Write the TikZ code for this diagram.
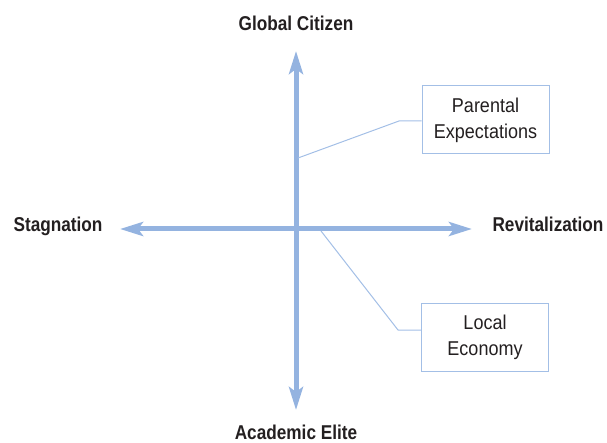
\documentclass[tikz,border=0pt]{standalone}
\usepackage{fontspec}
\setmainfont{Liberation Sans}
\newfontfamily\axisfont[FakeStretch=0.86]{Liberation Sans}
\newfontfamily\boxfont[FakeStretch=0.9]{Liberation Sans}
\usetikzlibrary{arrows.meta}
\definecolor{axisblue}{HTML}{94B3E0}
\definecolor{boxblue}{HTML}{A3BFE6}
\definecolor{txt}{HTML}{231F20}
\tikzset{
  axisline/.style={draw=axisblue, line width=5pt,
    arrows={Stealth[length=23pt,width=14pt,inset=5pt,fill=axisblue]-Stealth[length=23pt,width=14pt,inset=5pt,fill=axisblue]}},
  axislabel/.style={font=\axisfont\bfseries\fontsize{20}{24}\selectfont, text=txt, anchor=base, inner sep=0pt},
  factorbox/.style={draw=boxblue, line width=1pt, minimum width=127pt, minimum height=68pt,
    align=center, font=\boxfont\fontsize{20}{26}\selectfont, text=txt, inner sep=0pt},
  leader/.style={draw=boxblue, line width=1pt}
}
\begin{document}
\begin{tikzpicture}[x=1pt,y=-1pt]
\useasboundingbox (0,0) rectangle (607,443);
% axes endpoints
\coordinate (top) at (296,51);
\coordinate (bottom) at (296,410);
\coordinate (left) at (120,229);
\coordinate (right) at (472,229);
\draw[axisline] (bottom) -- (top);
\draw[axisline] (left) -- (right);
% labels
\node[axislabel] (gc) at (296,31) {Global Citizen};
\node[axislabel] (ae) at (296,439.5) {Academic Elite};
\node[axislabel] (st) at (58,232) {Stagnation};
\node[axislabel] (rv) at (548,232) {Revitalization};
% boxes
\node[factorbox] (pe) at (485.5,120) {Parental\\Expectations};
\node[factorbox] (le) at (485,337) {Local\\Economy};
% leaders
\coordinate (peAxis) at (298,158);
\coordinate (peBend) at (399,121);
\coordinate (leAxis) at (321,231);
\coordinate (leBend) at (398,330);
\draw[leader] (peAxis) -- (peBend) -- (pe.west |- peBend);
\draw[leader] (leAxis) -- (leBend) -- (le.west |- leBend);
\end{tikzpicture}
\end{document}
